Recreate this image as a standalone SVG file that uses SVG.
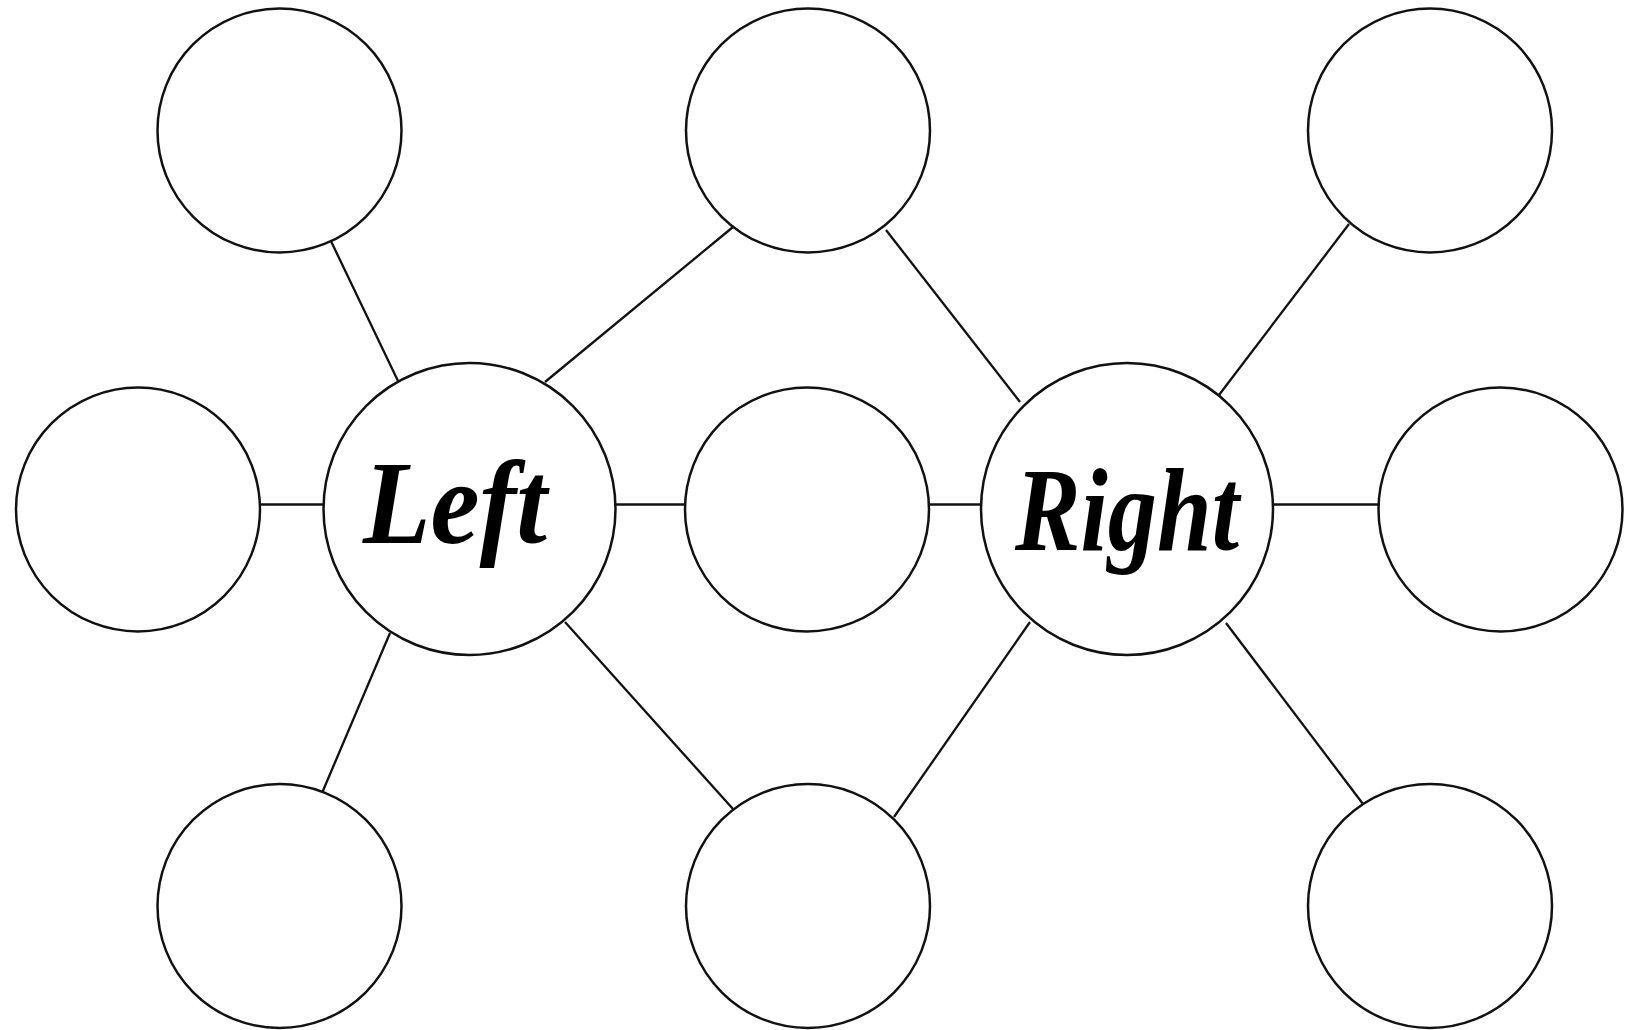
<svg xmlns="http://www.w3.org/2000/svg" width="1632" height="1030" viewBox="0 0 1632 1030">
<style>
.node{fill:#ffffff;stroke:#111111;stroke-width:2.5}
.edge{stroke:#111111;stroke-width:2.3;fill:none}
.lbl{font-family:"Liberation Serif","DejaVu Serif",serif;font-style:italic;font-weight:bold;font-size:118px;fill:#000000;text-anchor:middle}
</style>
<rect width="1632" height="1030" fill="#ffffff"/>
<g id="connectors">
<line class="edge" x1="329" y1="237" x2="398" y2="381"/>
<line class="edge" x1="545" y1="382" x2="733" y2="227"/>
<line class="edge" x1="886" y1="230" x2="1020" y2="402"/>
<line class="edge" x1="1219" y1="395" x2="1349" y2="224"/>
<line class="edge" x1="259" y1="504.5" x2="324" y2="504.5"/>
<line class="edge" x1="615" y1="504.5" x2="686" y2="504.5"/>
<line class="edge" x1="929" y1="504.5" x2="981" y2="504.5"/>
<line class="edge" x1="1272" y1="504.5" x2="1379" y2="504.5"/>
<line class="edge" x1="390" y1="633" x2="322" y2="793"/>
<line class="edge" x1="565" y1="622" x2="733" y2="809"/>
<line class="edge" x1="1030" y1="622" x2="894" y2="817"/>
<line class="edge" x1="1226" y1="623" x2="1363" y2="804"/>
</g>
<g id="n-top-left"><circle class="node" cx="279.5" cy="130.5" r="122"/></g>
<g id="n-top-mid"><circle class="node" cx="808" cy="130.5" r="122"/></g>
<g id="n-top-right"><circle class="node" cx="1430" cy="130.5" r="122"/></g>
<g id="n-mid-left"><circle class="node" cx="138" cy="509.5" r="122"/></g>
<g id="n-left"><circle class="node" cx="469.5" cy="509" r="146"/><text class="lbl" x="455" y="543" textLength="184" lengthAdjust="spacingAndGlyphs">Left</text></g>
<g id="n-mid-center"><circle class="node" cx="807" cy="509.5" r="122"/></g>
<g id="n-right"><circle class="node" cx="1127" cy="509" r="146"/><text class="lbl" x="1127" y="550" textLength="224" lengthAdjust="spacingAndGlyphs">Right</text></g>
<g id="n-mid-right"><circle class="node" cx="1500.5" cy="509.5" r="122"/></g>
<g id="n-bottom-left"><circle class="node" cx="279.5" cy="906" r="122"/></g>
<g id="n-bottom-mid"><circle class="node" cx="808" cy="906" r="122"/></g>
<g id="n-bottom-right"><circle class="node" cx="1430" cy="906" r="122"/></g>
</svg>
